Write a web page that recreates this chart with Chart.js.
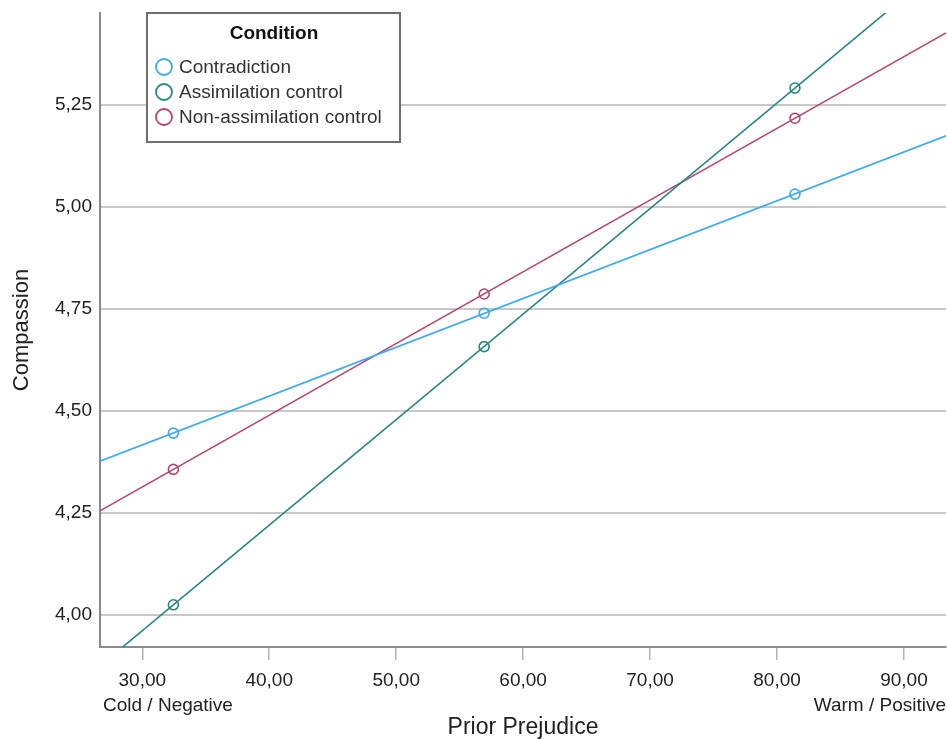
<!DOCTYPE html>
<html>
<head>
<meta charset="utf-8">
<script src="https://cdn.jsdelivr.net/npm/chart.js@4.4.1/dist/chart.umd.min.js"></script>
<style>
  html, body { margin: 0; padding: 0; background: #fff; }
  #wrap { width: 947px; height: 740px; }
</style>
</head>
<body>
<div id="wrap"><canvas id="prejudiceChart" width="947" height="740"></canvas></div>
<script>
// Estimated marginal means of Compassion at -1 SD, mean, +1 SD of prior prejudice
const conditions = ['Contradiction', 'Assimilation control', 'Non-assimilation control'];
const prejudiceLevels = [32.45, 56.93, 81.41];
const contradiction = [4.446, 4.740, 5.032];
const assimilationControl = [4.025, 4.658, 5.292];
const nonAssimilationControl = [4.357, 4.787, 5.218];
const xTicks = [30, 40, 50, 60, 70, 80, 90];
const yTicks = [4.00, 4.25, 4.50, 4.75, 5.00, 5.25];

const colors = ['#3fa9ee', '#2b8583', '#b5466f'];
const seriesValues = [contradiction, assimilationControl, nonAssimilationControl];

const X_MIN = 26.67, X_MAX = 93.31;
const Y_MIN = 3.9215, Y_MAX = 5.476;
const FONT = "'Liberation Sans', Arial, sans-serif";

// least squares fit through the three means, drawn across the full x range
function fitLine(xs, ys) {
    const n = xs.length;
    const mx = xs.reduce((a, b) => a + b, 0) / n;
    const my = ys.reduce((a, b) => a + b, 0) / n;
    let sxy = 0, sxx = 0;
    for (let i = 0; i < n; i++) {
        sxy += (xs[i] - mx) * (ys[i] - my);
        sxx += (xs[i] - mx) * (xs[i] - mx);
    }
    const slope = sxy / sxx;
    const b = my - slope * mx;
    return [{ x: X_MIN, y: b + slope * X_MIN }, { x: X_MAX, y: b + slope * X_MAX }];
}

const datasets = [];
conditions.forEach((name, i) => {
    datasets.push({
        label: name,
        data: fitLine(prejudiceLevels, seriesValues[i]),
        borderColor: colors[i],
        borderWidth: 1.6,
        pointRadius: 0,
        showLine: true,
        fill: false
    });
    datasets.push({
        label: name + ' means',
        data: prejudiceLevels.map((x, j) => ({ x: x, y: seriesValues[i][j] })),
        borderColor: colors[i],
        backgroundColor: 'rgba(255,255,255,0)',
        pointRadius: 5,
        pointBorderWidth: 1.6,
        showLine: false
    });
});

const fmt = v => v.toFixed(2).replace('.', ',');

// legend box and the end labels under the x axis
const extras = {
    id: 'extras',
    afterDraw(chart) {
        const ctx = chart.ctx;
        ctx.save();
        // end-point anchors of the prejudice scale
        ctx.fillStyle = '#222';
        ctx.font = '19px ' + FONT;
        ctx.textBaseline = 'alphabetic';
        ctx.textAlign = 'left';
        ctx.fillText('Cold / Negative', 103, 711);
        ctx.textAlign = 'right';
        ctx.fillText('Warm / Positive', 946, 711);

        // legend
        const lx = 147, ly = 13, lw = 253, lh = 129;
        ctx.fillStyle = '#fff';
        ctx.fillRect(lx, ly, lw, lh);
        ctx.strokeStyle = '#6e6e6e';
        ctx.lineWidth = 2;
        ctx.strokeRect(lx, ly, lw, lh);
        ctx.fillStyle = '#111';
        ctx.font = 'bold 19px ' + FONT;
        ctx.textAlign = 'center';
        ctx.textBaseline = 'middle';
        ctx.fillText('Condition', 274, 34);
        ctx.font = '19px ' + FONT;
        ctx.textAlign = 'left';
        conditions.forEach((name, i) => {
            const cy = 67 + i * 25;
            ctx.beginPath();
            ctx.arc(164, cy, 8, 0, Math.PI * 2);
            ctx.strokeStyle = colors[i];
            ctx.lineWidth = 1.8;
            ctx.stroke();
            ctx.fillStyle = '#333';
            ctx.fillText(name, 179, cy + 1);
        });
        ctx.restore();
    }
};

// drop the label overhang padding so the plot runs to the canvas edges
function noPad(s) {
    s.paddingTop = 0;
    s.paddingBottom = 0;
    s.paddingLeft = 0;
    s.paddingRight = 0;
}

const ctx = document.getElementById('prejudiceChart').getContext('2d');
const chart = new Chart(ctx, {
    type: 'scatter',
    data: { datasets: datasets },
    options: {
        responsive: false,
        animation: false,
        layout: { autoPadding: false, padding: { top: 13, right: 1, bottom: 0, left: 0 } },
        plugins: {
            legend: { display: false },
            tooltip: { enabled: false }
        },
        scales: {
            x: {
                type: 'linear',
                min: X_MIN,
                max: X_MAX,
                afterBuildTicks: s => { s.ticks = xTicks.map(v => ({ value: v })); },
                afterFit: s => { s.height = 93; noPad(s); },
                grid: {
                    drawOnChartArea: false,
                    drawTicks: true,
                    tickLength: 13,
                    tickColor: '#b4b4b4',
                    lineWidth: 1.5
                },
                border: { display: true, color: '#8a8a8a', width: 2 },
                ticks: {
                    callback: v => fmt(v),
                    color: '#222',
                    font: { family: FONT, size: 19 },
                    padding: 9,
                    maxRotation: 0
                },
                title: {
                    display: true,
                    text: 'Prior Prejudice',
                    color: '#222',
                    font: { family: FONT, size: 23, lineHeight: 1.0 },
                    padding: { top: 0, bottom: 1 }
                }
            },
            y: {
                type: 'linear',
                min: Y_MIN,
                max: Y_MAX,
                afterBuildTicks: s => { s.ticks = yTicks.map(v => ({ value: v })); },
                afterFit: s => { s.width = 100; noPad(s); },
                grid: {
                    drawTicks: false,
                    color: '#c8c8c8',
                    lineWidth: 2
                },
                border: { display: true, color: '#8a8a8a', width: 2 },
                ticks: {
                    callback: v => fmt(v),
                    color: '#222',
                    font: { family: FONT, size: 19 },
                    padding: 8
                },
                title: {
                    display: true,
                    text: 'Compassion',
                    color: '#222',
                    font: { family: FONT, size: 22 },
                    padding: { top: 9, bottom: 0 }
                }
            }
        }
    },
    plugins: [extras]
});
</script>
</body>
</html>
